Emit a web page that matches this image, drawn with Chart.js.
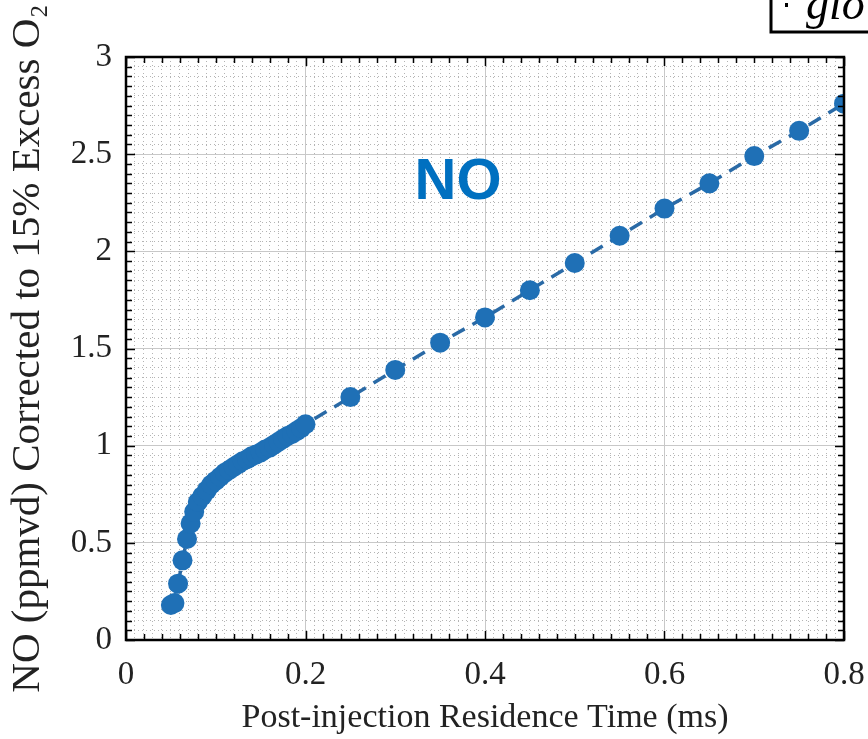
<!DOCTYPE html>
<html>
<head>
<meta charset="utf-8">
<script src="https://cdn.jsdelivr.net/npm/chart.js@4/dist/chart.umd.min.js"></script>
<style>
  body { margin: 0; background: #fff; }
  #wrap { width: 868px; height: 739px; }
</style>
</head>
<body>
<div id="wrap"><canvas id="myChart" width="868" height="739"></canvas></div>
<script>
// residence time (ms) and NO (ppmvd, 15% O2)
let residenceTime = [
  0.050, 0.054, 0.058, 0.063, 0.068, 0.072, 0.076, 0.080, 0.085, 0.090,
  0.095, 0.100, 0.105, 0.110, 0.115, 0.120, 0.125, 0.130, 0.135, 0.140,
  0.145, 0.150, 0.155, 0.160, 0.165, 0.170, 0.175, 0.180, 0.185, 0.190,
  0.195, 0.200,
  0.25, 0.30, 0.35, 0.40, 0.45, 0.50, 0.55, 0.60, 0.65, 0.70, 0.75, 0.80
];
let noPpm = [
  0.18, 0.19, 0.29, 0.41, 0.52, 0.60, 0.66, 0.71, 0.74, 0.77,
  0.80, 0.82, 0.84, 0.86, 0.875, 0.89, 0.905, 0.92, 0.93, 0.945,
  0.955, 0.965, 0.98, 0.99, 1.005, 1.02, 1.035, 1.05, 1.06, 1.075,
  1.09, 1.11,
  1.25, 1.39, 1.53, 1.66, 1.80, 1.94, 2.08, 2.22, 2.35, 2.49, 2.62, 2.76
];
let xTickLabels = ['0', '0.2', '0.4', '0.6', '0.8'];
let yTickLabels = ['0', '0.5', '1', '1.5', '2', '2.5', '3'];

let blue = '#1f70b6';
let serif = "'Liberation Serif', 'Times New Roman', serif";

function isMultiple(v, step) {
  let r = v / step;
  return Math.abs(r - Math.round(r)) < 1e-6;
}

let points = [];
for (var i = 0; i < residenceTime.length; i++) {
  points.push({x: residenceTime[i], y: noPpm[i]});
}

// inward tick marks, plot frame, "NO" tag and the clipped box at top right
let decorPlugin = {
  id: 'decor',
  afterDraw(chart) {
    let ctx = chart.ctx;
    let a = chart.chartArea;
    let xs = chart.scales.x;
    let ys = chart.scales.y;
    ctx.save();
    ctx.strokeStyle = '#000';
    ctx.lineWidth = 1.5;
    ctx.beginPath();
    xs.ticks.forEach(function(t) {
      if (!isMultiple(t.value, 0.02)) return;
      let px = Math.round(xs.getPixelForValue(t.value)) + 0.5;
      let len = isMultiple(t.value, 0.2) ? 9 : 6;
      ctx.moveTo(px, a.bottom); ctx.lineTo(px, a.bottom - len);
      ctx.moveTo(px, a.top); ctx.lineTo(px, a.top + len);
    });
    ys.ticks.forEach(function(t) {
      let py = Math.round(ys.getPixelForValue(t.value)) + 0.5;
      let len = isMultiple(t.value, 0.5) ? 9 : 6;
      ctx.moveTo(a.left, py); ctx.lineTo(a.left + len, py);
      ctx.moveTo(a.right, py); ctx.lineTo(a.right - len, py);
    });
    ctx.stroke();
    ctx.lineWidth = 2.5;
    ctx.strokeRect(a.left, a.top, a.right - a.left, a.bottom - a.top);

    ctx.fillStyle = '#0070c0';
    ctx.font = "bold 58px 'Liberation Sans', Arial, sans-serif";
    ctx.textAlign = 'center';
    ctx.textBaseline = 'middle';
    ctx.fillText('NO', xs.getPixelForValue(0.37), ys.getPixelForValue(2.35));

    ctx.lineWidth = 3;
    ctx.strokeRect(771, -10, 120, 42);
    ctx.fillStyle = '#000';
    ctx.font = 'italic 46px ' + serif;
    ctx.textAlign = 'left';
    ctx.textBaseline = 'alphabetic';
    ctx.fillText('glo', 806, 19);
    ctx.fillRect(785, 3, 3, 4);
    ctx.restore();
  }
};

let gridColor = function(c, major) {
  if (!c.tick) return '#c8c8c8';
  return major(c.tick.value) ? '#c8c8c8' : '#b4b4b4';
};
let gridDash = function(c, major) {
  if (!c.tick) return [];
  return major(c.tick.value) ? [] : [1, 3];
};
let xMajor = function(v) { return isMultiple(v, 0.2); };
let yMajor = function(v) { return isMultiple(v, 0.5); };

var ctx = document.getElementById('myChart').getContext('2d');
var chart = new Chart(ctx, {
  type: 'scatter',
  data: {
    datasets: [{
      label: 'NO',
      data: points,
      showLine: true,
      borderColor: '#2a6aa6',
      borderWidth: 3.5,
      borderDash: [14, 9],
      pointBackgroundColor: blue,
      pointBorderColor: blue,
      pointRadius: 10,
      pointBorderWidth: 0,
      tension: 0
    }]
  },
  options: {
    responsive: false,
    animation: false,
    devicePixelRatio: 1,
    layout: { padding: { top: 57, right: 24, left: 0, bottom: 0 } },
    plugins: {
      legend: { display: false },
      tooltip: { enabled: false }
    },
    scales: {
      x: {
        type: 'linear',
        min: 0,
        max: 0.8,
        afterFit: function(s) { s.height = 99; s.paddingLeft = 0; s.paddingRight = 0; },
        ticks: {
          stepSize: 0.01,
          autoSkip: false,
          maxRotation: 0,
          padding: 16,
          color: '#222',
          font: { family: serif, size: 33 },
          callback: function(v) {
            return xMajor(v) ? xTickLabels[Math.round(v * 5)] : '';
          }
        },
        grid: {
          drawTicks: false,
          lineWidth: 1,
          color: function(c) { return gridColor(c, xMajor); }
        },
        border: {
          display: false,
          dash: function(c) { return gridDash(c, xMajor); }
        },
        title: {
          display: true,
          text: 'Post-injection Residence Time (ms)',
          color: '#222',
          font: { family: serif, size: 34, lineHeight: 1.2 },
          padding: { top: 0, bottom: 1 }
        }
      },
      y: {
        min: 0,
        max: 3,
        afterFit: function(s) { s.width = 126; s.paddingTop = 0; s.paddingBottom = 0; },
        ticks: {
          stepSize: 0.05,
          autoSkip: false,
          padding: 14,
          color: '#222',
          font: { family: serif, size: 33 },
          callback: function(v) {
            return yMajor(v) ? yTickLabels[Math.round(v * 2)] : '';
          }
        },
        grid: {
          drawTicks: false,
          lineWidth: 1,
          color: function(c) { return gridColor(c, yMajor); }
        },
        border: {
          display: false,
          dash: function(c) { return gridDash(c, yMajor); }
        },
        title: {
          display: true,
          text: 'NO (ppmvd) Corrected to 15% Excess O\u2082',
          color: '#222',
          font: { family: serif, size: 41, lineHeight: 1.2 },
          padding: { top: 4, bottom: 0 }
        }
      }
    }
  },
  plugins: [decorPlugin]
});
</script>
</body>
</html>
